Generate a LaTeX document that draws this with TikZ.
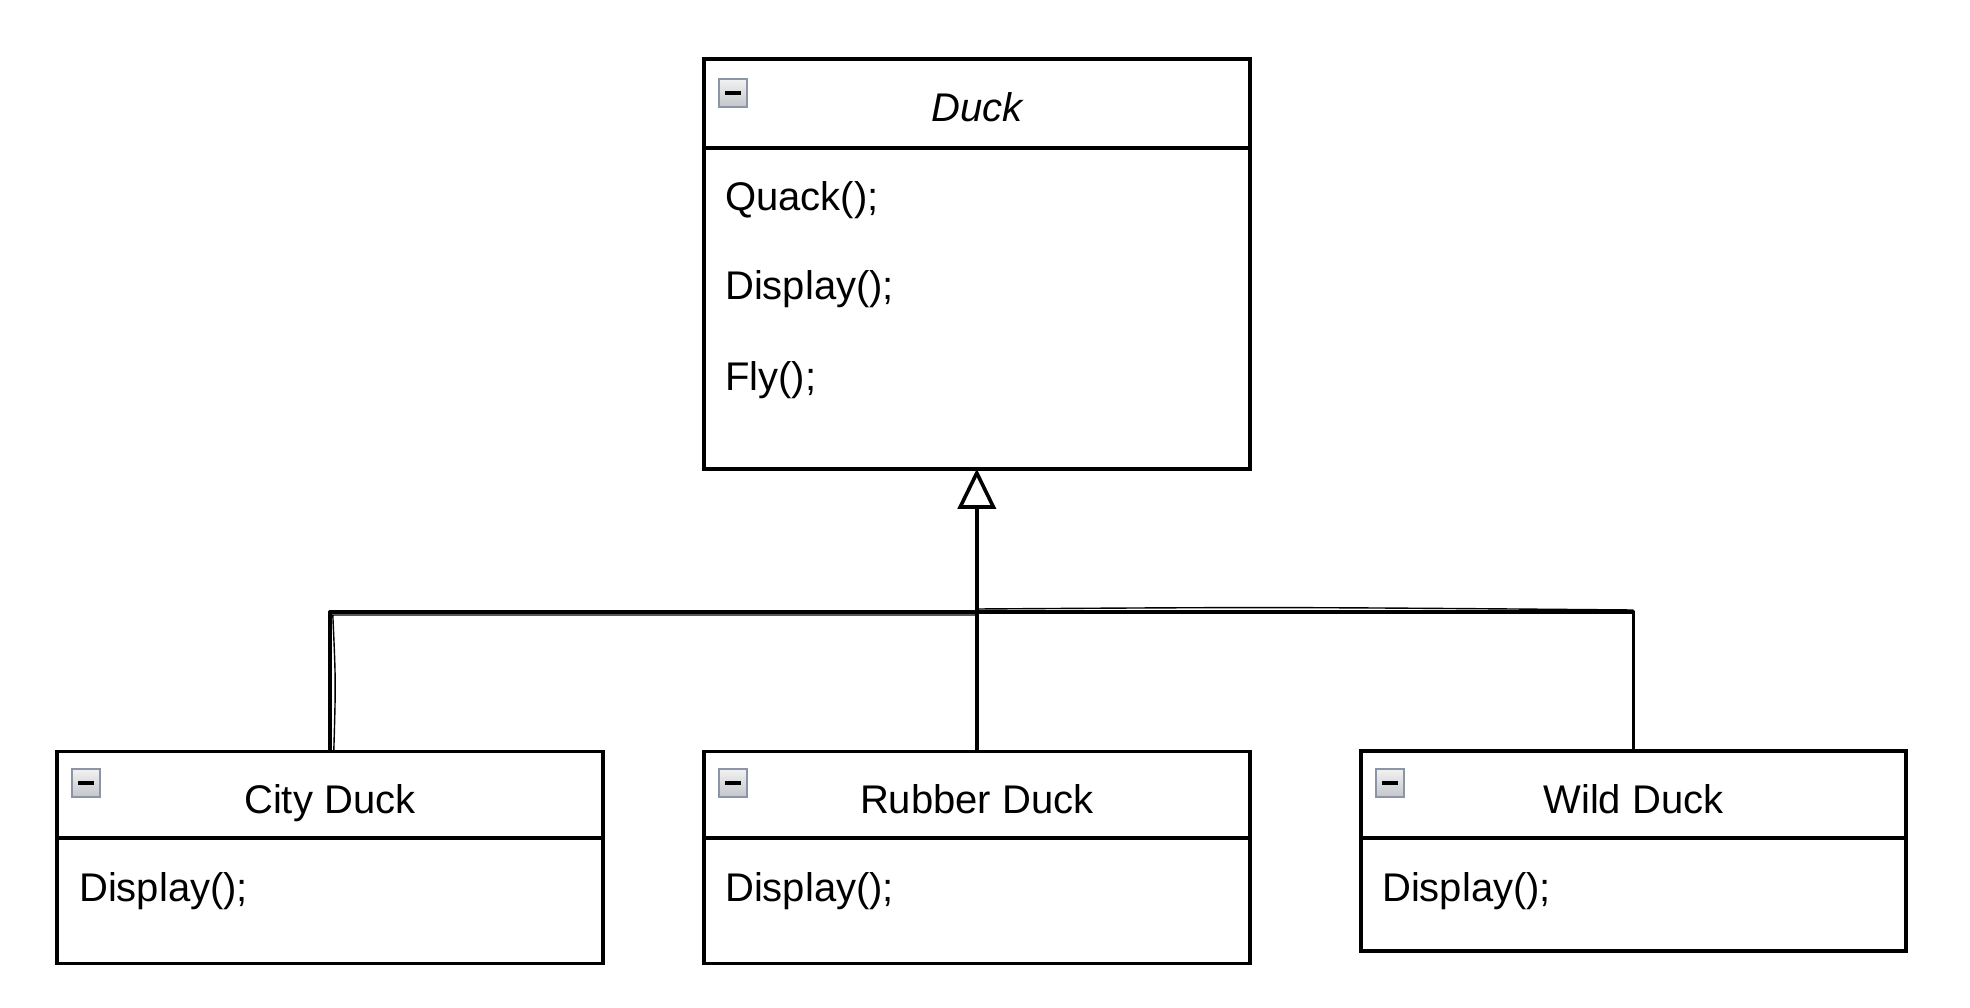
\documentclass[tikz,border=0pt]{standalone}
\usepackage{fontspec}
\setmainfont{Liberation Sans}
\usetikzlibrary{arrows.meta}
\definecolor{iconborder}{HTML}{8C95A8}
\definecolor{icontop}{HTML}{F2F2F2}
\definecolor{iconbot}{HTML}{C4C6CC}
\tikzset{
  classbox/.style={draw=black, line width=3.6pt, fill=white, rectangle, inner sep=0pt, outer sep=0pt},
  sepline/.style={draw=black, line width=3.6pt},
  conn/.style={draw=black, line width=3.6pt, line join=round},
  sketch/.style={draw=black, line width=1.4pt},
  titletext/.style={font=\fontsize{40}{48}\selectfont, anchor=base, inner sep=0pt},
  membertext/.style={font=\fontsize{40}{48}\selectfont, anchor=base west, inner sep=0pt},
  iconbox/.style={draw=iconborder, line width=2.5pt, top color=icontop, bottom color=iconbot, minimum width=28pt, minimum height=28pt, inner sep=0pt},
  minusbar/.style={draw=black, line width=4pt}
}
\begin{document}
\begin{tikzpicture}[x=1pt, y=-1pt]
\useasboundingbox (0,0) rectangle (1970,1008);
\fill[white] (0,0) rectangle (1970,1008);

% Duck
\node[classbox, minimum width=546pt, minimum height=410pt] (duck) at (976.8,263.8) {};
\draw[sepline] (703.8,148) -- (1249.8,148);
\node[iconbox] (duckicon) at (733,93) {};
\draw[minusbar] ([xshift=-8pt]duckicon.center) -- ([xshift=8pt]duckicon.center);
\node[titletext, font=\fontsize{40}{48}\selectfont\itshape] (ducktitle) at (976.8,122) {Duck};
\node[membertext] (quack) at (725,211) {Quack();};
\node[membertext] (display) at (725,300) {Display();};
\node[membertext] (fly) at (725,390) {Fly();};

% City Duck
\node[classbox, minimum width=546pt, minimum height=212pt] (city) at (329.8,857.3) {};
\draw[sepline] (56.8,838) -- (602.8,838);
\node[iconbox] (cityicon) at (86,783) {};
\draw[minusbar] ([xshift=-8pt]cityicon.center) -- ([xshift=8pt]cityicon.center);
\node[titletext] (citytitle) at (329.8,813) {City Duck};
\node[membertext] (citydisp) at (79,901) {Display();};

% Rubber Duck
\node[classbox, minimum width=546pt, minimum height=212pt] (rubber) at (976.8,857.3) {};
\draw[sepline] (703.8,838) -- (1249.8,838);
\node[iconbox] (rubbericon) at (733,783) {};
\draw[minusbar] ([xshift=-8pt]rubbericon.center) -- ([xshift=8pt]rubbericon.center);
\node[titletext] (rubbertitle) at (976.8,813) {Rubber Duck};
\node[membertext] (rubberdisp) at (725,901) {Display();};

% Wild Duck
\node[classbox, minimum width=545pt, minimum height=200pt] (wild) at (1633.4,851) {};
\draw[sepline] (1360.9,838) -- (1905.9,838);
\node[iconbox] (wildicon) at (1390,783) {};
\draw[minusbar] ([xshift=-8pt]wildicon.center) -- ([xshift=8pt]wildicon.center);
\node[titletext] (wildtitle) at (1633.4,813) {Wild Duck};
\node[membertext] (wilddisp) at (1382,901) {Display();};

% Connectors
\coordinate (joint) at (976.8,612);
\draw[conn] (city.north) |- (joint) -| (wild.north);
\draw[sketch] ([xshift=4pt]city.north) .. controls ([xshift=6pt,yshift=70pt]city.north) .. ([xshift=3pt,yshift=-3pt]city.north |- joint) -- ([yshift=-3pt]joint);
\draw[sketch] ([yshift=3pt]joint) .. controls ([xshift=300pt,yshift=5pt]joint) .. ([yshift=2pt]joint -| wild.north);
\draw[conn, -{Triangle[open, length=40pt, width=38pt, line width=3.6pt]}] (rubber.north) -- (duck.south);
\end{tikzpicture}
\end{document}
